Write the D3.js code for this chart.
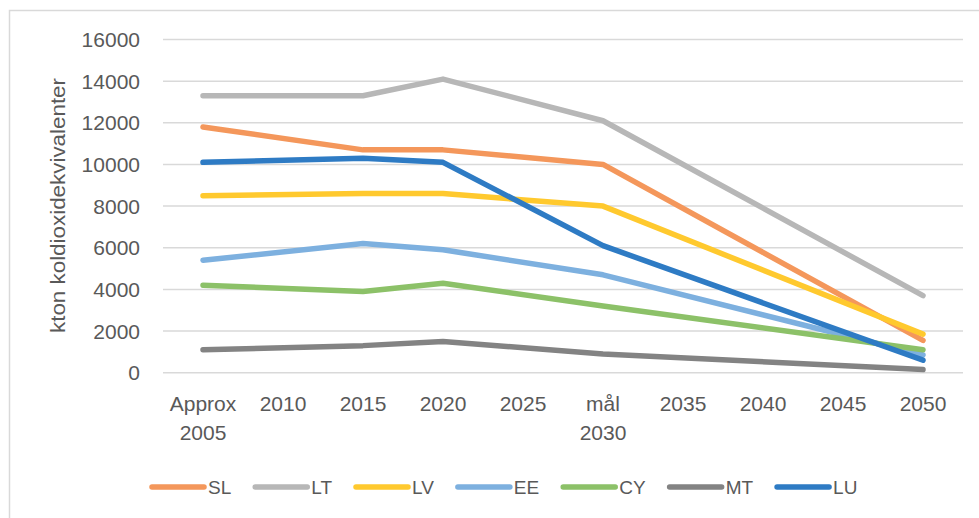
<!DOCTYPE HTML>
<html lang="sv">
<head>
<meta charset="utf-8" />
<title>Utsläpp per land</title>
<style>
  body { margin: 0; background: #fff; }
  svg text { font-family: "Liberation Sans", Arial, sans-serif; fill: #595959; }
</style>
</head>
<body>
<div id="chart"></div>
<script src="https://d3js.org/d3.v7.min.js"></script>
<script>
// categories (x axis), two-line labels
const categories = ["Approx 2005", "2010", "2015", "2020", "2025", "mål 2030", "2035", "2040", "2045", "2050"];
const catLines = [["Approx", "2005"], ["2010"], ["2015"], ["2020"], ["2025"], ["mål", "2030"], ["2035"], ["2040"], ["2045"], ["2050"]];
const yTicks = [0, 2000, 4000, 6000, 8000, 10000, 12000, 14000, 16000];

// series values (null = no value for that year)
const SL = [11800, null, 10700, 10700, null, 10000, null, null, null, 1550];
const LT = [13300, null, 13300, 14100, null, 12100, null, null, null, 3700];
const LV = [8500, null, 8600, 8600, null, 8000, null, null, null, 1850];
const EE = [5400, null, 6200, 5900, null, 4700, null, null, null, 850];
const CY = [4200, null, 3900, 4300, null, 3200, null, null, null, 1100];
const MT = [1100, null, 1300, 1500, null, 900, null, null, null, 150];
const LU = [10100, null, 10300, 10100, null, 6100, null, null, null, 600];

const seriesNames = ["SL", "LT", "LV", "EE", "CY", "MT", "LU"];
const seriesValues = [SL, LT, LV, EE, CY, MT, LU];
const colors = ["#F4975B", "#B7B7B7", "#FFC92E", "#7DB0DF", "#8CC168", "#838383", "#2E7BC4"];

const W = 979, H = 518;
const plot = { left: 163, right: 963, top: 39.5, bottom: 372.7 };

const svg = d3.select("#chart").append("svg")
    .attr("width", W)
    .attr("height", H);

// outer chart frame (runs off the right and bottom edge)
svg.append("rect")
    .attr("x", 9.5).attr("y", 10.5)
    .attr("width", W + 20).attr("height", H + 20)
    .attr("fill", "none")
    .attr("stroke", "#d9d9d9")
    .attr("stroke-width", 1.5);

const x = d3.scaleBand().domain(categories).range([plot.left, plot.right]);
const cx = c => x(c) + x.bandwidth() / 2;
const y = d3.scaleLinear().domain([0, 16000]).range([plot.bottom, plot.top]);

// gridlines
svg.append("g").selectAll("line")
    .data(yTicks)
    .enter().append("line")
    .attr("x1", plot.left).attr("x2", plot.right)
    .attr("y1", d => y(d)).attr("y2", d => y(d))
    .attr("stroke", "#d9d9d9")
    .attr("stroke-width", 1.5);

// y tick labels
svg.append("g").selectAll("text")
    .data(yTicks)
    .enter().append("text")
    .attr("x", 140)
    .attr("y", d => y(d) + 7.5)
    .attr("text-anchor", "end")
    .attr("font-size", 21)
    .text(d => d);

// x tick labels
const xl = svg.append("g").selectAll("text")
    .data(categories)
    .enter().append("text")
    .attr("text-anchor", "middle")
    .attr("font-size", 21)
    .attr("x", d => cx(d))
    .attr("y", 410.5);
xl.each(function(d, i) {
    const t = d3.select(this);
    catLines[i].forEach((s, k) => {
        t.append("tspan")
            .attr("x", cx(d))
            .attr("dy", k === 0 ? 0 : 29.5)
            .text(s);
    });
});

// y axis title
svg.append("text")
    .attr("transform", `translate(65,205.5) rotate(-90)`)
    .attr("text-anchor", "middle")
    .attr("font-size", 21)
    .attr("textLength", 255)
    .attr("lengthAdjust", "spacingAndGlyphs")
    .text("kton koldioxidekvivalenter");

// lines
const line = d3.line()
    .x(d => cx(d.cat))
    .y(d => y(d.v));

seriesNames.forEach((name, i) => {
    const pts = categories
        .map((c, j) => ({ cat: c, v: seriesValues[i][j] }))
        .filter(d => d.v !== null);
    svg.append("path")
        .datum(pts)
        .attr("d", line)
        .attr("fill", "none")
        .attr("stroke", colors[i])
        .attr("stroke-width", 5.5)
        .attr("stroke-linecap", "round")
        .attr("stroke-linejoin", "round");
});

// legend
const legend = svg.append("g");
let lx = 152;
const ly = 487;
seriesNames.forEach((name, i) => {
    legend.append("line")
        .attr("x1", lx).attr("x2", lx + 52)
        .attr("y1", ly).attr("y2", ly)
        .attr("stroke", colors[i])
        .attr("stroke-width", 5.5)
        .attr("stroke-linecap", "round");
    const t = legend.append("text")
        .attr("x", lx + 56)
        .attr("y", ly + 7)
        .attr("font-size", 19)
        .text(name);
    const w = t.node().getComputedTextLength();
    lx += 56 + w + 24;
});
</script>
</body>
</html>
